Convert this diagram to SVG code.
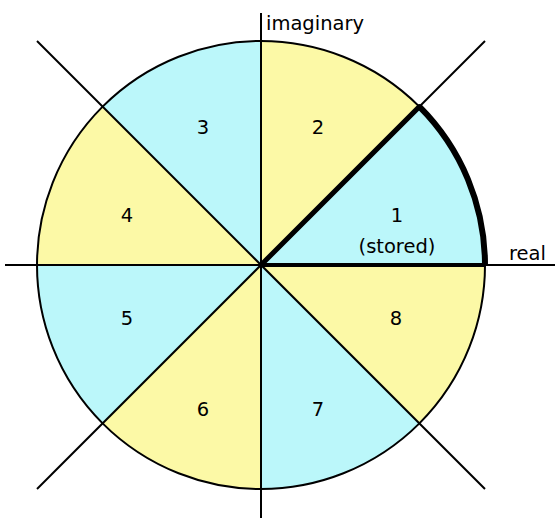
<svg xmlns="http://www.w3.org/2000/svg" width="560" height="520" viewBox="0 0 560 520">
<style>
.c{fill:#bbf7fa}
.y{fill:#fcf9a6}
.ln{stroke:#000;stroke-width:2;fill:none}
.t{font-family:"DejaVu Sans",Verdana,sans-serif;font-size:19.5px;fill:#000}
.m{text-anchor:middle}
</style>
<rect width="560" height="520" fill="#fff"/>
<g id="sectors">
<path id="s1" class="c" d="M261,265 L485,265 A224,224 0 0 0 419.39,106.61 Z"/>
<path id="s2" class="y" d="M261,265 L419.39,106.61 A224,224 0 0 0 261,41 Z"/>
<path id="s3" class="c" d="M261,265 L261,41 A224,224 0 0 0 102.61,106.61 Z"/>
<path id="s4" class="y" d="M261,265 L102.61,106.61 A224,224 0 0 0 37,265 Z"/>
<path id="s5" class="c" d="M261,265 L37,265 A224,224 0 0 0 102.61,423.39 Z"/>
<path id="s6" class="y" d="M261,265 L102.61,423.39 A224,224 0 0 0 261,489 Z"/>
<path id="s7" class="c" d="M261,265 L261,489 A224,224 0 0 0 419.39,423.39 Z"/>
<path id="s8" class="y" d="M261,265 L419.39,423.39 A224,224 0 0 0 485,265 Z"/>
</g>
<g id="connectors">
<circle class="ln" cx="261" cy="265" r="224"/>
<line class="ln" x1="261" y1="13" x2="261" y2="518"/>
<line class="ln" x1="5" y1="265" x2="555" y2="265"/>
<line class="ln" x1="37" y1="41" x2="485" y2="489"/>
<line class="ln" x1="37" y1="489" x2="485" y2="41"/>
<line stroke="#000" stroke-width="4" x1="261" y1="265" x2="485" y2="265"/>
<line stroke="#000" stroke-width="5" stroke-linecap="round" x1="261" y1="265" x2="419.39" y2="106.61"/>
<path d="M485,265 A224,224 0 0 0 419.39,106.61" stroke="#000" stroke-width="6" fill="none"/>
</g>
<g id="labels">
<text class="t" x="266" y="30">imaginary</text>
<text class="t" x="509" y="260">real</text>
<text class="t m" x="397" y="222">1</text>
<text class="t m" x="397" y="253">(stored)</text>
<text class="t m" x="318" y="134">2</text>
<text class="t m" x="203" y="134">3</text>
<text class="t m" x="127" y="222">4</text>
<text class="t m" x="127" y="325">5</text>
<text class="t m" x="203" y="416">6</text>
<text class="t m" x="318" y="416">7</text>
<text class="t m" x="396" y="325">8</text>
</g>
</svg>
